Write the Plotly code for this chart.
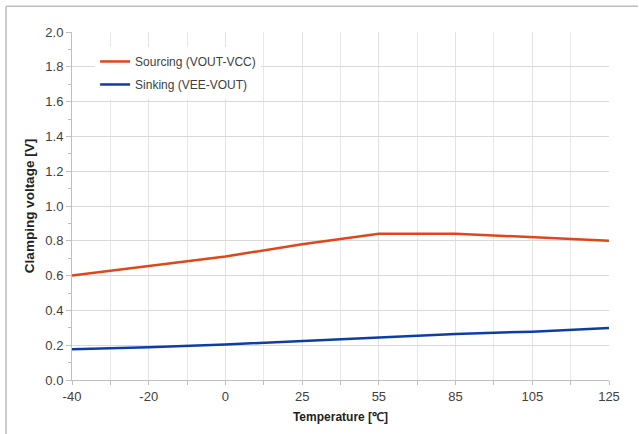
import plotly.graph_objects as go

temps = ["-40", "-20", "0", "25", "55", "85", "105", "125"]
sourcing = [0.60, 0.653, 0.71, 0.78, 0.841, 0.841, 0.82, 0.80]
sinking = [0.177, 0.188, 0.204, 0.225, 0.244, 0.265, 0.278, 0.299]
y_ticks = [0.0, 0.2, 0.4, 0.6, 0.8, 1.0, 1.2, 1.4, 1.6, 1.8, 2.0]

xpos = list(range(len(temps)))
mids = [i + 0.5 for i in xpos[:-1]]

fig = go.Figure()
fig.add_trace(go.Scatter(x=xpos, y=sourcing, mode="lines", name="Sourcing (VOUT-VCC)",
                         line=dict(color="#e0461a", width=2.5),
                         legendgroup="a"))
fig.add_trace(go.Scatter(x=xpos, y=sinking, mode="lines", name="Sinking (VEE-VOUT)",
                         line=dict(color="#0d3ea8", width=2.5),
                         legendgroup="b"))

font_family = "Liberation Sans, Arial, sans-serif"

fig.update_layout(
    width=639, height=434,
    margin=dict(l=72, r=30, t=32, b=52),
    paper_bgcolor="white", plot_bgcolor="white",
    font=dict(family=font_family, size=12, color="#404040"),
    showlegend=True,
    legend=dict(x=0.043, y=0.957, xanchor="left", yanchor="top",
                bgcolor="white", font=dict(size=12, color="#404040"),
                tracegroupgap=4, traceorder="grouped"),
    xaxis=dict(range=[0, len(temps) - 1], tickvals=xpos, ticktext=temps,
               showgrid=True, gridcolor="#e3e3e3", gridwidth=1,
               showline=True, linecolor="#bfbfbf", linewidth=1,
               ticks="outside", ticklen=4, tickcolor="#bfbfbf",
               tickfont=dict(size=13, color="#404040"),
               minor=dict(tickvals=mids, showgrid=True, gridcolor="#e8e8e8",
                          ticks="outside", ticklen=4, tickcolor="#bfbfbf"),
               zeroline=False,
               title=dict(text="<b>Temperature [℃]</b>", font=dict(size=12, color="#222222"),
                          standoff=10)),
    yaxis=dict(range=[0, 2.0], tickvals=y_ticks, tickformat=".1f",
               showgrid=True, gridcolor="#d9d9d9", gridwidth=1,
               showline=True, linecolor="#bfbfbf", linewidth=1,
               ticks="outside", ticklen=5, tickcolor="#bfbfbf",
               tickfont=dict(size=13, color="#404040"),
               minor=dict(dtick=0.1, ticks="outside", ticklen=3, tickcolor="#bfbfbf", showgrid=False),
               zeroline=False,
               title=dict(text="<b>Clamping voltage [V]</b>", font=dict(size=13.5, color="#222222"),
                          standoff=7)),
)

# outer frame (top and left edges)
fig.add_shape(type="line", xref="paper", yref="paper",
              x0=-0.1229, x1=1.054, y0=1.0743, y1=1.0743,
              line=dict(color="#bdbdbd", width=1.5), layer="above")
fig.add_shape(type="line", xref="paper", yref="paper",
              x0=-0.1229, x1=-0.1229, y0=-0.2, y1=1.0743,
              line=dict(color="#bdbdbd", width=1.5), layer="above")

fig.write_html("out.html", config={"displayModeBar": False},
               post_script="document.body.style.margin='0';")
